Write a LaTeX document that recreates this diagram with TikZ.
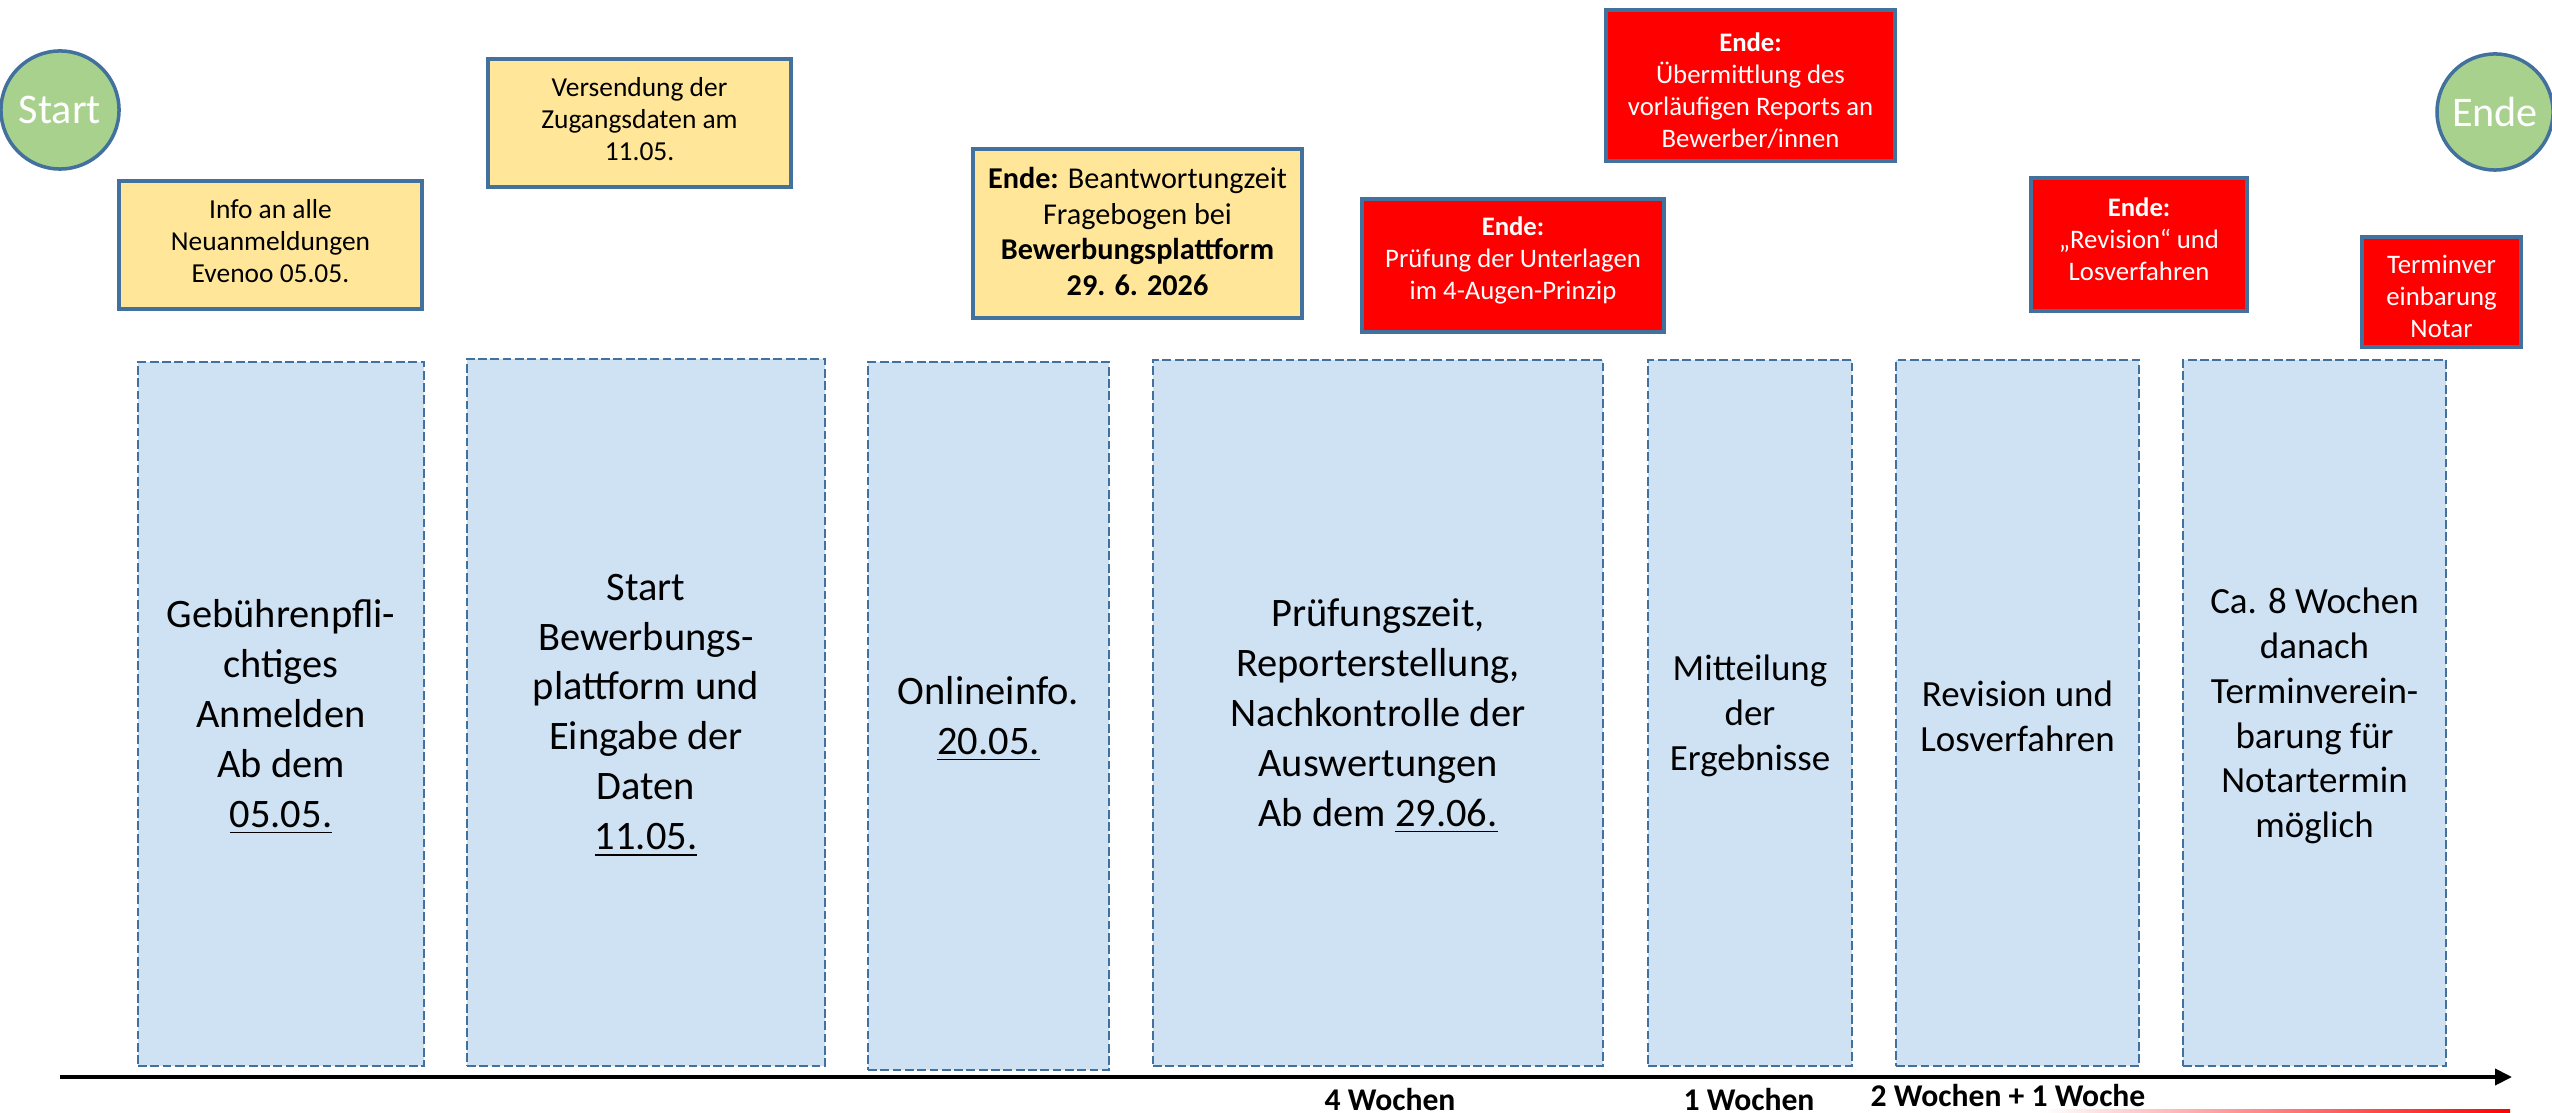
\documentclass[tikz,border=0pt]{standalone}
\usepackage{fontspec}
\setmainfont{Carlito}
\usetikzlibrary{fit,arrows.meta}
\definecolor{bluefill}{RGB}{207,226,243}
\definecolor{bordblue}{RGB}{65,113,156}
\definecolor{noteyellow}{RGB}{255,230,153}
\definecolor{termgreen}{RGB}{169,209,142}
\definecolor{alertred}{RGB}{255,0,0}
\begin{document}
\begin{tikzpicture}[x=0.01cm,y=-0.01cm,
  phase/.style={draw=bordblue, dash pattern=on 2.5pt off 1pt, line width=0.7pt, fill=bluefill, inner sep=0pt},
  phasetext/.style={inner sep=0pt, align=center, font=\fontsize{11.5}{14.2}\selectfont},
  phasetextsm/.style={inner sep=0pt, align=center, font=\fontsize{10.5}{12.75}\selectfont},
  note/.style={draw=bordblue, line width=1.1pt, fill=noteyellow, inner sep=0pt},
  notetext/.style={inner sep=0pt, align=center, font=\fontsize{7.8}{9.1}\selectfont},
  alert/.style={draw=bordblue, line width=1.1pt, fill=alertred, inner sep=0pt},
  alerttext/.style={inner sep=0pt, align=center, text=white, font=\fontsize{7.6}{9.1}\selectfont},
  terminal/.style={circle, draw=bordblue, line width=1pt, fill=termgreen, text=white, inner sep=0pt, font=\fontsize{12}{14}\selectfont},
  weeks/.style={font=\bfseries\fontsize{9}{10}\selectfont, anchor=base, inner sep=0pt}]
\useasboundingbox (0,0) rectangle (2552,1113);

% terminals
\node[terminal, minimum size=1.18cm] (start) at (60,110) {Start};
\node[terminal, minimum size=1.16cm] (ende) at (2495,112) {Ende};

% yellow notes
\node[note, fit={(119,181)(422,309)}] (info) {};
\node[notetext] (infot) at ([yshift=0.04cm]info.center) {Info an alle\\Neuanmeldungen\\Evenoo 05.05.};
\node[note, fit={(488,59)(791,187)}] (vers) {};
\node[notetext] (verst) at ([yshift=0.04cm]vers.center) {Versendung der\\Zugangsdaten am\\11.05.};
\node[note, fit={(973,149)(1302,318)}] (frage) {};
\node[notetext, font=\fontsize{8.6}{10.1}\selectfont] (fraget) at ([yshift=0.02cm]frage.center) {\textbf{Ende:} Beantwortungzeit\\Fragebogen bei\\\textbf{Bewerbungsplattform}\\\textbf{29. 6. 2026}};

% red notes
\node[alert, fit={(1362,199)(1664,332)}] (pruef) {};
\node[alerttext] (prueft) at ([yshift=0.05cm]pruef.center) {\textbf{Ende:}\\Prüfung der Unterlagen\\im 4-Augen-Prinzip};
\node[alert, fit={(1606,10)(1895,161)}] (uebm) {};
\node[alerttext] (uebmt) at ([yshift=-0.05cm]uebm.center) {\textbf{Ende:}\\Übermittlung des\\vorläufigen Reports an\\Bewerber/innen};
\node[alert, fit={(2031,178)(2247,311)}] (revend) {};
\node[alerttext] (revendt) at ([yshift=0.05cm]revend.center) {\textbf{Ende:}\\„Revision“ und\\Losverfahren};
\node[alert, fit={(2362,237)(2521,347)}] (notar) {};
\node[alerttext] (notart) at ([yshift=-0.04cm]notar.center) {Terminver\\einbarung\\Notar};

% phases
\node[phase, fit={(138,362)(424,1066)}] (p1) {};
\node[phasetext] (p1t) at ([yshift=-0.03cm]p1.center) {Gebührenpfli-\\chtiges\\Anmelden\\Ab dem\\\underline{05.05.}};
\node[phase, fit={(467,359)(825,1066)}] (p2) {};
\node[phasetext] (p2t) at ([yshift=-0.03cm]p2.center) {Start\\Bewerbungs-\\plattform und\\Eingabe der\\Daten\\\underline{11.05.}};
\node[phase, fit={(868,362)(1109,1070)}] (p3) {};
\node[phasetext] (p3t) at ([yshift=-0.03cm]p3.center) {Onlineinfo.\\\underline{20.05.}};
\node[phase, fit={(1153,360)(1603,1066)}] (p4) {};
\node[phasetext] (p4t) at ([yshift=-0.03cm]p4.center) {Prüfungszeit,\\Reporterstellung,\\Nachkontrolle der\\Auswertungen\\Ab dem \underline{29.06.}};
\node[phase, fit={(1648,360)(1852,1066)}] (p5) {};
\node[phasetextsm] (p5t) at ([yshift=-0.03cm]p5.center) {Mitteilung\\der\\Ergebnisse};
\node[phase, fit={(1896,360)(2139,1066)}] (p6) {};
\node[phasetextsm] (p6t) at ([yshift=-0.03cm]p6.center) {Revision und\\Losverfahren};
\node[phase, fit={(2183,360)(2446,1066)}] (p7) {};
\node[phasetextsm] (p7t) at ([yshift=-0.03cm]p7.center) {Ca. 8 Wochen\\danach\\Terminverein-\\barung für\\Notartermin\\möglich};

% time axis
\coordinate (axs) at (60,1077);
\coordinate (axe) at (2512,1077);
\draw[line width=1.1pt, -{Triangle[length=1.7mm,width=1.6mm]}] (axs) -- (axe);

\node[weeks] (w4) at (1390,1110) {4 Wochen};
\node[weeks] (w1) at (1749,1110) {1 Wochen};
\node[weeks] (w21) at (2008,1106) {2 Wochen + 1 Woche};

% red gradient stroke at the bottom edge
\shade[left color=white, right color=alertred] (2043,1109) rectangle (2510,1113);
\end{tikzpicture}
\end{document}
